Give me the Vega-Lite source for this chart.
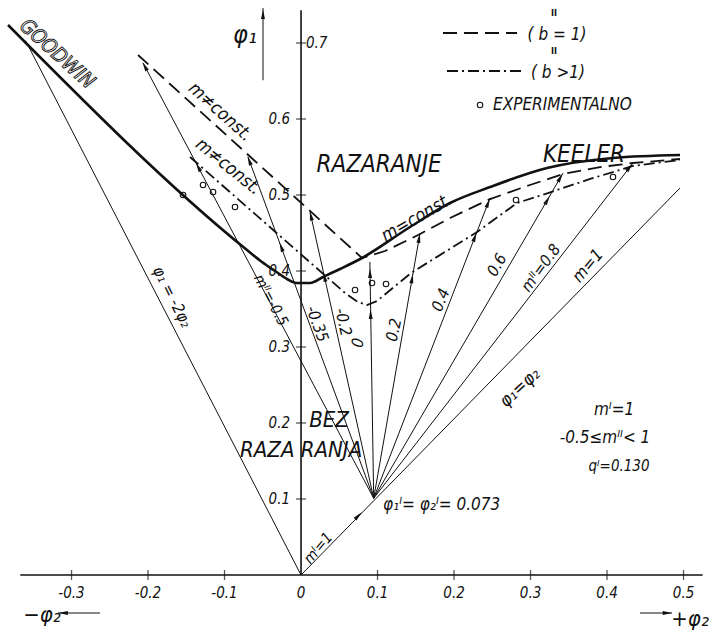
{
  "$schema": "https://vega.github.io/schema/vega-lite/v6.json",
  "width": 709,
  "height": 632,
  "padding": 0,
  "autosize": {"type": "fit", "contains": "padding"},
  "background": "white",
  "config": {
    "view": {"stroke": null},
    "text": {"font": "DejaVu Sans Condensed, Liberation Sans Narrow, Liberation Sans, sans-serif", "fontStyle": "italic", "color": "#111", "baseline": "middle", "align": "center"}
  },
  "encoding": {
    "x": {"field": "phi2", "type": "quantitative", "scale": {"domain": [-0.3935, 0.5333], "nice": false, "zero": false}, "axis": null},
    "y": {"field": "phi1", "type": "quantitative", "scale": {"domain": [-0.075, 0.7566], "nice": false, "zero": false}, "axis": null}
  },
  "layer": [
    {
      "data": {"values": [
        {"phi2": -0.367, "phi1": 0, "phi2_end": 0.525, "phi1_end": 0},
        {"phi2": 0, "phi1": 0, "phi2_end": 0, "phi1_end": 0.743}
      ]},
      "mark": {"type": "rule", "color": "#111", "strokeWidth": 1.6},
      "encoding": {"x2": {"field": "phi2_end"}, "y2": {"field": "phi1_end"}}
    },
    {
      "data": {"values": [
        {"phi2": -0.3, "phi1": 0}, {"phi2": -0.2, "phi1": 0}, {"phi2": -0.1, "phi1": 0},
        {"phi2": 0.1, "phi1": 0}, {"phi2": 0.2, "phi1": 0}, {"phi2": 0.3, "phi1": 0},
        {"phi2": 0.4, "phi1": 0}, {"phi2": 0.5, "phi1": 0}
      ]},
      "mark": {"type": "tick", "orient": "vertical", "color": "#111", "size": 10, "thickness": 1.3}
    },
    {
      "data": {"values": [
        {"phi2": 0, "phi1": 0.1}, {"phi2": 0, "phi1": 0.2}, {"phi2": 0, "phi1": 0.3},
        {"phi2": 0, "phi1": 0.4}, {"phi2": 0, "phi1": 0.5}, {"phi2": 0, "phi1": 0.6},
        {"phi2": 0, "phi1": 0.7}
      ]},
      "mark": {"type": "tick", "orient": "horizontal", "color": "#111", "size": 10, "thickness": 1.3}
    },
    {
      "data": {"values": [
        {"line": "phi1 = -2 phi2", "phi2": 0, "phi1": 0, "phi2_end": -0.36, "phi1_end": 0.703},
        {"line": "phi1 = phi2", "phi2": 0, "phi1": 0, "phi2_end": 0.4954, "phi1_end": 0.5092},
        {"line": "mII = -0.5", "phi2": 0.095, "phi1": 0.101, "phi2_end": -0.2065, "phi1_end": 0.6737},
        {"line": "mII = -0.35", "phi2": 0.095, "phi1": 0.101, "phi2_end": -0.0693, "phi1_end": 0.55},
        {"line": "mII = -0.2", "phi2": 0.095, "phi1": 0.101, "phi2_end": 0.0118, "phi1_end": 0.4776},
        {"line": "mII = 0", "phi2": 0.095, "phi1": 0.101, "phi2_end": 0.09, "phi1_end": 0.412},
        {"line": "mII = 0.2", "phi2": 0.095, "phi1": 0.101, "phi2_end": 0.1556, "phi1_end": 0.45},
        {"line": "mII = 0.4", "phi2": 0.095, "phi1": 0.101, "phi2_end": 0.2471, "phi1_end": 0.4961},
        {"line": "mII = 0.6", "phi2": 0.095, "phi1": 0.101, "phi2_end": 0.3425, "phi1_end": 0.5289},
        {"line": "mII = 0.8", "phi2": 0.095, "phi1": 0.101, "phi2_end": 0.434, "phi1_end": 0.5421},
        {"line": "phi1 axis arrow", "phi2": -0.0497, "phi1": 0.651, "phi2_end": -0.0497, "phi1_end": 0.746},
        {"line": "-phi2 arrow", "phi2": -0.2627, "phi1": -0.05, "phi2_end": -0.3176, "phi1_end": -0.05},
        {"line": "+phi2 arrow", "phi2": 0.4431, "phi1": -0.05, "phi2_end": 0.485, "phi1_end": -0.05}
      ]},
      "mark": {"type": "rule", "color": "#111", "strokeWidth": 1},
      "encoding": {"x2": {"field": "phi2_end"}, "y2": {"field": "phi1_end"}}
    },
    {
      "data": {"values": [
        {"phi2": -0.383, "phi1": 0.7237}, {"phi2": -0.0706, "phi1": 0.4276},
        {"phi2": -0.051, "phi1": 0.4118}, {"phi2": -0.034, "phi1": 0.4},
        {"phi2": -0.0183, "phi1": 0.3895}, {"phi2": -0.0052, "phi1": 0.3842},
        {"phi2": 0.0118, "phi1": 0.3842}, {"phi2": 0.0288, "phi1": 0.3921},
        {"phi2": 0.051, "phi1": 0.4026}, {"phi2": 0.0797, "phi1": 0.4171},
        {"phi2": 0.1425, "phi1": 0.4579}, {"phi2": 0.1948, "phi1": 0.4895},
        {"phi2": 0.2471, "phi1": 0.5105}, {"phi2": 0.3216, "phi1": 0.5355},
        {"phi2": 0.4078, "phi1": 0.5487}, {"phi2": 0.4954, "phi1": 0.5526}
      ]},
      "mark": {"type": "line", "color": "#111", "strokeWidth": 2.6, "interpolate": "monotone"}
    },
    {
      "data": {"values": [
        {"series": "curve", "phi2": -0.2131, "phi1": 0.6842}, {"series": "curve", "phi2": 0.0797, "phi1": 0.4171},
        {"series": "curve", "phi2": 0.1098, "phi1": 0.4263}, {"series": "curve", "phi2": 0.1425, "phi1": 0.4421},
        {"series": "curve", "phi2": 0.1556, "phi1": 0.4487}, {"series": "curve", "phi2": 0.1948, "phi1": 0.4697},
        {"series": "curve", "phi2": 0.2471, "phi1": 0.4947}, {"series": "curve", "phi2": 0.2993, "phi1": 0.5132},
        {"series": "curve", "phi2": 0.3425, "phi1": 0.5276}, {"series": "curve", "phi2": 0.3908, "phi1": 0.5368},
        {"series": "curve", "phi2": 0.434, "phi1": 0.5421}, {"series": "curve", "phi2": 0.4954, "phi1": 0.5474},
        {"series": "key", "phi2": 0.1856, "phi1": 0.7132}, {"series": "key", "phi2": 0.2824, "phi1": 0.7132}
      ]},
      "mark": {"type": "line", "color": "#111", "strokeWidth": 1.8, "strokeDash": [14, 7]},
      "encoding": {"detail": {"field": "series"}}
    },
    {
      "data": {"values": [
        {"series": "curve", "phi2": -0.1451, "phi1": 0.55}, {"series": "curve", "phi2": 0.0575, "phi1": 0.3711},
        {"series": "curve", "phi2": 0.0745, "phi1": 0.3592}, {"series": "curve", "phi2": 0.0863, "phi1": 0.3553},
        {"series": "curve", "phi2": 0.0993, "phi1": 0.3605}, {"series": "curve", "phi2": 0.1438, "phi1": 0.3974},
        {"series": "curve", "phi2": 0.2301, "phi1": 0.4513}, {"series": "curve", "phi2": 0.2824, "phi1": 0.4895},
        {"series": "curve", "phi2": 0.3229, "phi1": 0.5026}, {"series": "curve", "phi2": 0.3778, "phi1": 0.5211},
        {"series": "curve", "phi2": 0.434, "phi1": 0.5382}, {"series": "curve", "phi2": 0.4954, "phi1": 0.5461},
        {"series": "key", "phi2": 0.1908, "phi1": 0.6632}, {"series": "key", "phi2": 0.2889, "phi1": 0.6632}
      ]},
      "mark": {"type": "line", "color": "#111", "strokeWidth": 1.8, "strokeDash": [11, 4, 2, 4]},
      "encoding": {"detail": {"field": "series"}}
    },
    {
      "data": {"values": [
        {"phi2": -0.2042, "phi1": 0.6693, "from2": 0.095, "from1": 0.101},
        {"phi2": -0.1344, "phi1": 0.5368, "from2": 0.095, "from1": 0.101},
        {"phi2": -0.0677, "phi1": 0.5453, "from2": 0.095, "from1": 0.101},
        {"phi2": -0.0259, "phi1": 0.4316, "from2": 0.095, "from1": 0.101},
        {"phi2": 0.0129, "phi1": 0.4727, "from2": 0.095, "from1": 0.101},
        {"phi2": 0.0307, "phi1": 0.3921, "from2": 0.095, "from1": 0.101},
        {"phi2": 0.0902, "phi1": 0.397, "from2": 0.095, "from1": 0.101},
        {"phi2": 0.091, "phi1": 0.343, "from2": 0.095, "from1": 0.101},
        {"phi2": 0.1544, "phi1": 0.4431, "from2": 0.095, "from1": 0.101},
        {"phi2": 0.1452, "phi1": 0.39, "from2": 0.095, "from1": 0.101},
        {"phi2": 0.2446, "phi1": 0.4896, "from2": 0.095, "from1": 0.101},
        {"phi2": 0.2273, "phi1": 0.4447, "from2": 0.095, "from1": 0.101},
        {"phi2": 0.339, "phi1": 0.5228, "from2": 0.095, "from1": 0.101},
        {"phi2": 0.322, "phi1": 0.4934, "from2": 0.095, "from1": 0.101},
        {"phi2": 0.4296, "phi1": 0.5365, "from2": 0.095, "from1": 0.101},
        {"phi2": 0.075, "phi1": 0.078, "from2": 0, "from1": 0},
        {"phi2": -0.0497, "phi1": 0.738, "from2": -0.0497, "from1": 0.651},
        {"phi2": -0.311, "phi1": -0.05, "from2": -0.2627, "from1": -0.05},
        {"phi2": 0.479, "phi1": -0.05, "from2": 0.4431, "from1": -0.05}
      ]},
      "transform": [
        {"calculate": "atan2(datum.phi2 - datum.from2, datum.phi1 - datum.from1) * 180 / PI", "as": "heading"}
      ],
      "mark": {"type": "point", "shape": "M0,-1L0.42,1L-0.42,1Z", "size": 90, "filled": true, "color": "#111", "opacity": 1},
      "encoding": {"angle": {"field": "heading", "type": "quantitative", "scale": null}}
    },
    {
      "data": {"values": [
        {"phi2": -0.1542, "phi1": 0.5}, {"phi2": -0.1281, "phi1": 0.5132},
        {"phi2": -0.115, "phi1": 0.5039}, {"phi2": -0.0863, "phi1": 0.4842},
        {"phi2": 0.0706, "phi1": 0.375}, {"phi2": 0.0928, "phi1": 0.3842},
        {"phi2": 0.1111, "phi1": 0.3829}, {"phi2": 0.281, "phi1": 0.4934},
        {"phi2": 0.4078, "phi1": 0.5237}, {"phi2": 0.234, "phi1": 0.6184}
      ]},
      "mark": {"type": "point", "shape": "circle", "size": 30, "filled": false, "color": "#111", "strokeWidth": 1.1, "opacity": 1}
    },
    {
      "data": {"values": [
        {"phi2": -0.3, "phi1": -0.0235, "label": "-0.3"}, {"phi2": -0.2, "phi1": -0.0235, "label": "-0.2"},
        {"phi2": -0.1, "phi1": -0.0235, "label": "-0.1"}, {"phi2": 0, "phi1": -0.0235, "label": "0"},
        {"phi2": 0.1, "phi1": -0.0235, "label": "0.1"}, {"phi2": 0.2, "phi1": -0.0235, "label": "0.2"},
        {"phi2": 0.3, "phi1": -0.0235, "label": "0.3"}, {"phi2": 0.4, "phi1": -0.0235, "label": "0.4"},
        {"phi2": 0.5, "phi1": -0.0235, "label": "0.5"}
      ]},
      "mark": {"type": "text", "fontSize": 15},
      "encoding": {"text": {"field": "label"}}
    },
    {
      "data": {"values": [
        {"phi2": -0.0144, "phi1": 0.1, "label": "0.1"}, {"phi2": -0.0144, "phi1": 0.2, "label": "0.2"},
        {"phi2": -0.0144, "phi1": 0.3, "label": "0.3"}, {"phi2": -0.0144, "phi1": 0.4, "label": "0.4"},
        {"phi2": -0.0144, "phi1": 0.5, "label": "0.5"}, {"phi2": -0.0144, "phi1": 0.6, "label": "0.6"}
      ]},
      "mark": {"type": "text", "fontSize": 15, "align": "right"},
      "encoding": {"text": {"field": "label"}}
    },
    {
      "data": {"values": [{"phi2": 0.0065, "phi1": 0.7, "label": "0.7"}]},
      "mark": {"type": "text", "fontSize": 15, "align": "left"},
      "encoding": {"text": {"field": "label"}}
    },
    {
      "data": {"values": [{"phi2": -0.0732, "phi1": 0.7105, "label": "φ₁"}]},
      "mark": {"type": "text", "fontSize": 25},
      "encoding": {"text": {"field": "label"}}
    },
    {
      "data": {"values": [
        {"phi2": -0.3386, "phi1": -0.052, "label": "−φ₂"},
        {"phi2": 0.5085, "phi1": -0.058, "label": "+φ₂"}
      ]},
      "mark": {"type": "text", "fontSize": 22},
      "encoding": {"text": {"field": "label"}}
    },
    {
      "data": {"values": [
        {"phi2": 0.102, "phi1": 0.5395, "label": "RAZARANJE"},
        {"phi2": 0.3699, "phi1": 0.5526, "label": "KEELER"}
      ]},
      "mark": {"type": "text", "fontSize": 24},
      "encoding": {"text": {"field": "label"}}
    },
    {
      "data": {"values": [{"phi2": 0.0366, "phi1": 0.2035, "label": "BEZ"}]},
      "mark": {"type": "text", "fontSize": 22},
      "encoding": {"text": {"field": "label"}}
    },
    {
      "data": {"values": [{"phi2": -0.0797, "phi1": 0.1645, "label": "RAZA RANJA"}]},
      "mark": {"type": "text", "fontSize": 22, "align": "left"},
      "encoding": {"text": {"field": "label"}}
    },
    {
      "data": {"values": [
        {"phi2": 0.3346, "phi1": 0.7112, "label": "( b = 1)"},
        {"phi2": 0.3359, "phi1": 0.6612, "label": "( b >1)"},
        {"phi2": 0.4092, "phi1": 0.2171, "label": "mᴵ=1"},
        {"phi2": 0.3974, "phi1": 0.1803, "label": "-0.5≤mᴵᴵ< 1"}
      ]},
      "mark": {"type": "text", "fontSize": 17},
      "encoding": {"text": {"field": "label"}}
    },
    {
      "data": {"values": [
        {"phi2": 0.3307, "phi1": 0.7395, "label": "II"},
        {"phi2": 0.3307, "phi1": 0.6895, "label": "II"}
      ]},
      "mark": {"type": "text", "fontSize": 9, "fontStyle": "normal", "fontWeight": "bold"},
      "encoding": {"text": {"field": "label"}}
    },
    {
      "data": {"values": [
        {"phi2": 0.251, "phi1": 0.6184, "label": "EXPERIMENTALNO"},
        {"phi2": 0.1072, "phi1": 0.0921, "label": "φ₁ᴵ= φ₂ᴵ= 0.073"}
      ]},
      "mark": {"type": "text", "fontSize": 17, "align": "left"},
      "encoding": {"text": {"field": "label"}}
    },
    {
      "data": {"values": [{"phi2": 0.4157, "phi1": 0.1434, "label": "qᴵ=0.130"}]},
      "mark": {"type": "text", "fontSize": 15},
      "encoding": {"text": {"field": "label"}}
    },
    {
      "data": {"values": [{"phi2": -0.319, "phi1": 0.6855, "label": "GOODWIN"}]},
      "mark": {"type": "text", "fontSize": 20, "angle": 42, "fill": "white", "stroke": "#111", "strokeWidth": 0.9},
      "encoding": {"text": {"field": "label"}}
    },
    {
      "data": {"values": [{"phi2": -0.106, "phi1": 0.609, "label": "m≠const."}]},
      "mark": {"type": "text", "fontSize": 18, "angle": 42},
      "encoding": {"text": {"field": "label"}}
    },
    {
      "data": {"values": [{"phi2": -0.0955, "phi1": 0.537, "label": "m≠const."}]},
      "mark": {"type": "text", "fontSize": 18, "angle": 39},
      "encoding": {"text": {"field": "label"}}
    },
    {
      "data": {"values": [{"phi2": 0.1516, "phi1": 0.4697, "label": "m=const."}]},
      "mark": {"type": "text", "fontSize": 18, "angle": -30},
      "encoding": {"text": {"field": "label"}}
    },
    {
      "data": {"values": [{"phi2": -0.1686, "phi1": 0.3658, "label": "φ₁ = -2φ₂"}]},
      "mark": {"type": "text", "fontSize": 16, "angle": 63},
      "encoding": {"text": {"field": "label"}}
    },
    {
      "data": {"values": [{"phi2": 0.2863, "phi1": 0.2461, "label": "φ₁=φ₂"}]},
      "mark": {"type": "text", "fontSize": 18, "angle": -43},
      "encoding": {"text": {"field": "label"}}
    },
    {
      "data": {"values": [{"phi2": 0.3752, "phi1": 0.4066, "label": "m=1"}]},
      "mark": {"type": "text", "fontSize": 17, "angle": -50},
      "encoding": {"text": {"field": "label"}}
    },
    {
      "data": {"values": [{"phi2": 0.3137, "phi1": 0.4039, "label": "mᴵᴵ=0.8"}]},
      "mark": {"type": "text", "fontSize": 16, "angle": -54},
      "encoding": {"text": {"field": "label"}}
    },
    {
      "data": {"values": [{"phi2": 0.2562, "phi1": 0.4079, "label": "0.6"}]},
      "mark": {"type": "text", "fontSize": 16, "angle": -60},
      "encoding": {"text": {"field": "label"}}
    },
    {
      "data": {"values": [{"phi2": 0.183, "phi1": 0.3618, "label": "0.4"}]},
      "mark": {"type": "text", "fontSize": 16, "angle": -68},
      "encoding": {"text": {"field": "label"}}
    },
    {
      "data": {"values": [{"phi2": 0.1216, "phi1": 0.3224, "label": "0.2"}]},
      "mark": {"type": "text", "fontSize": 16, "angle": -78},
      "encoding": {"text": {"field": "label"}}
    },
    {
      "data": {"values": [{"phi2": 0.0745, "phi1": 0.3053, "label": "0"}]},
      "mark": {"type": "text", "fontSize": 16, "angle": -80},
      "encoding": {"text": {"field": "label"}}
    },
    {
      "data": {"values": [{"phi2": 0.0549, "phi1": 0.3329, "label": "-0.2"}]},
      "mark": {"type": "text", "fontSize": 16, "angle": 77},
      "encoding": {"text": {"field": "label"}}
    },
    {
      "data": {"values": [{"phi2": 0.0209, "phi1": 0.3303, "label": "-0.35"}]},
      "mark": {"type": "text", "fontSize": 16, "angle": 70},
      "encoding": {"text": {"field": "label"}}
    },
    {
      "data": {"values": [{"phi2": -0.0392, "phi1": 0.3618, "label": "mᴵᴵ=-0.5"}]},
      "mark": {"type": "text", "fontSize": 15, "angle": 62},
      "encoding": {"text": {"field": "label"}}
    },
    {
      "data": {"values": [{"phi2": 0.0222, "phi1": 0.0355, "label": "mᴵ=1"}]},
      "mark": {"type": "text", "fontSize": 15, "angle": -50},
      "encoding": {"text": {"field": "label"}}
    }
  ]
}
